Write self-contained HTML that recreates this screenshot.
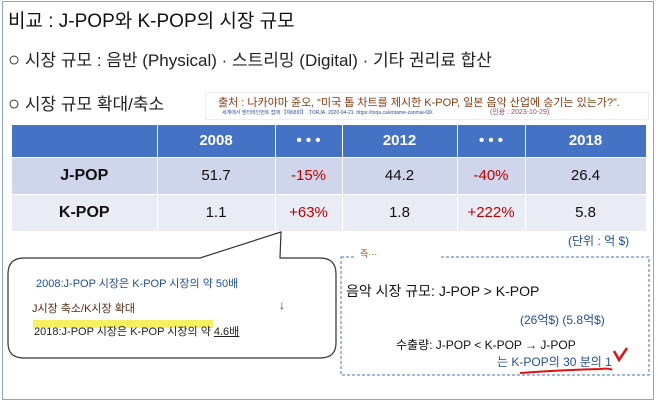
<!DOCTYPE html>
<html><head><meta charset="utf-8"><style>
*{margin:0;padding:0;box-sizing:border-box}
body{width:658px;height:403px;background:#fff;position:relative;overflow:hidden;font-family:"Liberation Sans","Noto Sans CJK KR",sans-serif}
.frame{position:absolute;left:2px;top:1px;width:652px;height:399px;border:1px solid #8ea6cf}
.t{position:absolute;white-space:nowrap}
table{position:absolute;left:12px;top:125px;border-collapse:collapse;font-family:"Liberation Sans","Noto Sans CJK KR",sans-serif}
td{text-align:center;font-size:15px;border-right:1px solid #fff;border-bottom:1px solid #fff;color:#111}
tr.h td{background:#4472c4;color:#fff;font-weight:bold;height:32px}
tr.r1 td{background:#cfd5ea;height:37px}
tr.r2 td{background:#e9ebf5;height:37px}
.red{color:#c00000!important}
</style></head><body>
<div class="frame"></div>
<div class="t" style="left:8px;top:6px;font-size:19px;color:#111">비교 : J-POP와 K-POP의 시장 규모</div>
<div class="t" style="left:8px;top:46px;font-size:17px;color:#222"><span style="font-size:20px">○</span> 시장 규모 : 음반 (Physical) · 스트리밍 (Digital) · 기타 권리료 합산</div>
<div class="t" style="left:8px;top:90px;font-size:17px;color:#222"><span style="font-size:20px">○</span> 시장 규모 확대/축소</div>
<div class="t" style="left:205px;top:92px;width:444px;height:28px;border:1px solid #eee"></div>
<div class="t" style="left:218px;top:94px;font-size:11px;color:#8a3b12">출처 : 나카야마 쥰오, “미국 톱 차트를 제시한 K-POP, 일본 음악 산업에 승기는 있는가?”.</div>
<div class="t" style="left:222px;top:109px;font-size:5px;color:#2b4f9e">세계에서 엔터테인먼트 접매 【제68회】 .TORJA. 2020-04-21. https://torja.ca/entame-zanmai-68/.</div>
<div class="t" style="left:490px;top:107px;font-size:7px;color:#b0405a">(인용 : 2023-10-29)</div>
<table>
<tr class="h"><td style="width:145px"></td><td style="width:118px">2008</td><td style="width:67px">• • •</td><td style="width:115px">2012</td><td style="width:68px">• • •</td><td style="width:121px">2018</td></tr>
<tr class="r1"><td style="font-weight:bold;font-size:16px">J-POP</td><td>51.7</td><td class="red">-15%</td><td>44.2</td><td class="red">-40%</td><td>26.4</td></tr>
<tr class="r2"><td style="font-weight:bold;font-size:16px">K-POP</td><td>1.1</td><td class="red">+63%</td><td>1.8</td><td class="red">+222%</td><td>5.8</td></tr>
</table>
<div class="t" style="left:568px;top:232px;font-size:12px;color:#1f4e9a">(단위 : 억 $)</div>
<svg style="position:absolute;left:0;top:0" width="658" height="403">
<path d="M28,258 H200 L281,232 L280,258 H320 Q336,258 336,274 V343 Q336,358 320,358 H24 Q8,358 8,343 V274 Q8,258 24,258 Z" fill="#fff" stroke="#333" stroke-width="1.2"/>
<rect x="341" y="257" width="308" height="118" fill="none" stroke="#4a72c4" stroke-dasharray="3,2"/>
<rect x="355" y="252" width="85" height="8" fill="#fff"/>
<rect x="33" y="320" width="180" height="8" fill="#f5f060"/>
<path d="M520,373 Q560,370 600,369 Q610,368 612,370" stroke="#e01010" stroke-width="2" fill="none"/>
<path d="M614,351 L619,360 L627,348" stroke="#e01010" stroke-width="2.5" fill="none"/>
</svg>
<div class="t" style="left:360px;top:247px;font-size:9px;color:#a05010">즉···</div>
<div class="t" style="left:36px;top:275px;font-size:11px;color:#1f4e9a">2008:J-POP 시장은 K-POP 시장의 약 50배</div>
<div class="t" style="left:32px;top:300px;font-size:11px;color:#5a2a10">J시장 축소/K시장 확대</div>
<div class="t" style="left:279px;top:298px;font-size:12px;color:#333">↓</div>
<div class="t" style="left:34px;top:323px;font-size:11px;color:#222">2018:J-POP 시장은 K-POP 시장의 약 <span style="text-decoration:underline">4.6배</span></div>
<div class="t" style="left:346px;top:281px;font-size:14px;color:#111">음악 시장 규모: J-POP &gt; K-POP</div>
<div class="t" style="left:520px;top:311px;font-size:12px;color:#1f4e9a">(26억$) (5.8억$)</div>
<div class="t" style="left:396px;top:336px;font-size:12px;color:#111">수출량: J-POP &lt; K-POP → J-POP</div>
<div class="t" style="left:497px;top:353px;font-size:12px;color:#1f4e9a">는 K-POP의 30 분의 1</div>
</body></html>
